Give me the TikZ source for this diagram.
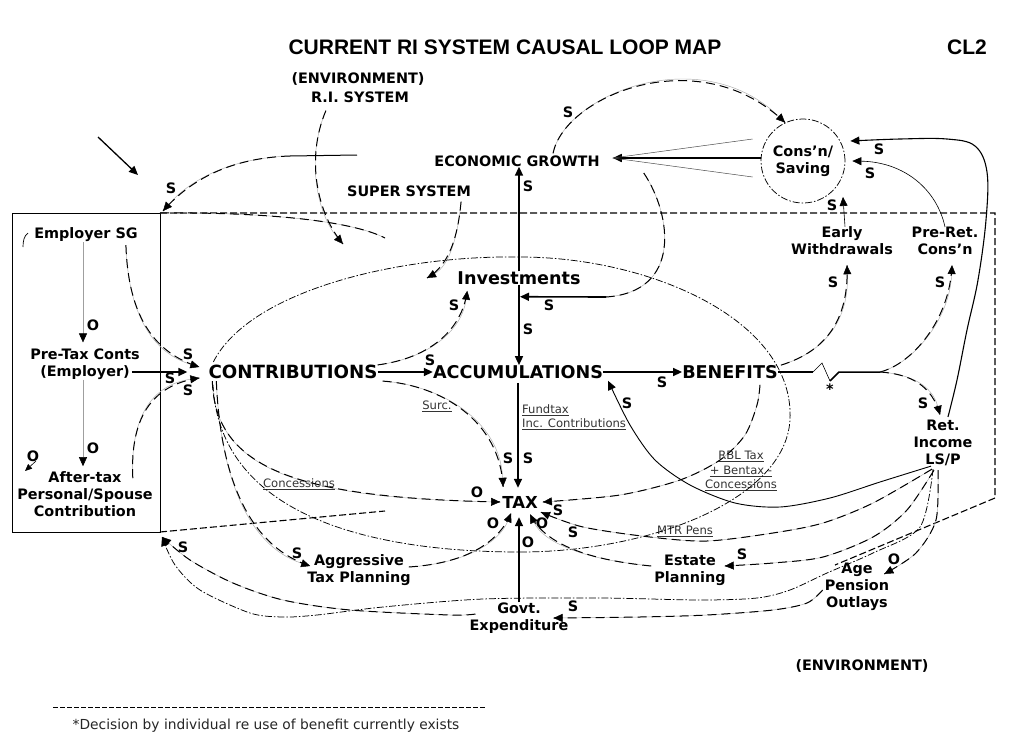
\documentclass[tikz,border=0pt]{standalone}
\usepackage{fontspec}
\setmainfont{DejaVu Sans}
\newfontfamily\headface{Liberation Sans}
\usetikzlibrary{arrows.meta,calc}
\newcommand\lblfnt{\fontsize{14.4}{17}\selectfont\bfseries}
\newcommand\bigfnt{\fontsize{17.6}{20}\selectfont\bfseries}
\newcommand\notefnt{\fontsize{11.6}{14}\selectfont}
\newcommand\headfnt{\headface\fontsize{21}{24}\selectfont\bfseries}

\tikzset{
  lbl/.style={font=\lblfnt, inner sep=0pt, align=center},
  big/.style={font=\bigfnt, inner sep=0pt},
  pol/.style={font=\lblfnt, inner sep=0pt},
  note/.style={font=\notefnt, inner sep=0pt, align=center, text=black!80},
  tipT/.style={-{Triangle[length=9pt,width=8pt,color=black,fill=black]}},
  tipS/.style={-{Triangle[length=7pt,width=6pt,color=black,fill=black]}},
  main/.style={line width=1.6pt, tipT},
  thn/.style={line width=0.5pt, draw=gray!75},
  lng/.style={draw=gray!65, line width=0.45pt,
    postaction={draw=black, line width=1pt, dash pattern=on 9pt off 5pt, -}},
  dd/.style={line width=0.75pt, dash pattern=on 7pt off 2pt on 1.5pt off 2pt},
  bnd/.style={line width=1.1pt, dash pattern=on 7pt off 3pt},
}

\begin{document}
\begin{tikzpicture}[x=1pt,y=-1pt]
\fill[white] (0,0) rectangle (1021,734);
\useasboundingbox (0,0) rectangle (1021,734);

% ---------- headings ----------
\node[font=\headfnt, inner sep=0pt] (title) at (505,47) {CURRENT RI SYSTEM CAUSAL LOOP MAP};
\node[font=\headfnt, inner sep=0pt] (cl2) at (967,47) {CL2};

% ---------- variables ----------
\node[lbl] (envtop) at (358,79) {(ENVIRONMENT)};
\node[lbl] (risys) at (360,97) {R.I. SYSTEM};
\node[lbl] (super) at (409,191) {SUPER SYSTEM};
\node[lbl] (econ) at (517,161) {ECONOMIC GROWTH};
\node[lbl, circle, draw, dd, minimum size=84pt, inner sep=0pt] (cons) at (803,161) {Cons’n/\\Saving};
\node[big] (invest) at (519,278) {Investments};
\node[lbl] (empsg) at (86,235) {Employer SG};
\node[lbl] (pretax) at (85,364) {Pre-Tax Conts\\(Employer)};
\node[lbl] (aftertax) at (85,494) {After-tax\\Personal/Spouse\\Contribution};
\node[big, font=\fontsize{18.2}{20}\selectfont\bfseries] (contrib) at (293,372) {CONTRIBUTIONS};
\node[big] (accum) at (518,372) {ACCUMULATIONS};
\node[big] (benef) at (730,372) {BENEFITS};
\node[lbl] (early) at (842,241) {Early\\Withdrawals};
\node[lbl] (preret) at (945,241) {Pre-Ret.\\Cons’n};
\node[lbl] (retinc) at (943,443) {Ret.\\Income\\LS/P};
\node[big, font=\fontsize{16.5}{20}\selectfont\bfseries] (tax) at (520,502) {TAX};
\node[lbl] (aggr) at (359,570) {Aggressive\\Tax Planning};
\node[lbl] (estate) at (690,570) {Estate\\Planning};
\node[lbl] (agepen) at (857,587) {Age\\Pension\\Outlays};
\node[lbl] (govt) at (519,618) {Govt.\\Expenditure};
\node[lbl] (envbot) at (862,666) {(ENVIRONMENT)};

% ---------- link notes ----------
\node[note] (surc) at (437,406) {\underline{Surc.}};
\node[note, align=left, anchor=west] (fundtax) at (522,417) {\underline{Fundtax}\\\underline{Inc. Contributions}};
\node[note, font=\fontsize{11.6}{14.5}\selectfont] (rbl) at (741,471) {\underline{RBL Tax}\\\underline{+ Bentax -}\\\underline{Concessions}};
\node[note] (conc) at (299,484) {\underline{Concessions}};
\node[note] (mtr) at (685,531) {\underline{MTR Pens}};
\node[lbl] (star) at (830,389) {*};
\node[font=\fontsize{13.8}{16}\selectfont, inner sep=0pt, text=black!85] (foot) at (266,726) {*Decision by individual re use of benefit currently exists};

% ---------- polarity marks ----------
\foreach \p/\x/\y [count=\i] in {S/171/188, S/568/112, S/528/186, S/879/149, S/870/173,
  S/832/205, O/93/325, S/188/354, S/170/378, S/188/390, S/430/360, S/454/305, S/549/305,
  S/528/329, S/662/382, S/833/282, S/940/282, S/923/403, S/627/403, O/93/448, O/33/456,
  S/508/458, S/528/458, O/477/492, S/558/510, O/493/523, O/542/523, O/528/542, S/573/532,
  S/297/553, S/183/547, S/742/554, O/894/559, S/573/606}
  \node[pol] (pol\i) at (\x,\y) {\p};

% ---------- system boundaries ----------
\coordinate (boxNW) at (12,213);
\coordinate (boxNE) at (160,213);
\coordinate (boxSE) at (160,532);
\coordinate (bndNE) at (995,213);
\coordinate (bndSE) at (995,498);
\coordinate (bndEnd) at (835,565);
\coordinate (bndL) at (385,511);
\draw[line width=1pt] (boxNW) rectangle (boxSE);
\draw[bnd] (boxNE) -- (bndNE) -- (bndSE) -- (bndEnd);
\draw[bnd] (boxSE) -- (bndL);

% input from outside
\coordinate (inA) at (98,137);
\coordinate (inB) at (138,175);
\draw[line width=1.3pt, tipT] (inA) -- (inB);

% environment link into the box corner
\coordinate (envout) at (357,155);
\coordinate (envmid) at (290,156);
\draw[line width=1pt] (envout) -- (envmid);
\draw[lng, tipT] (envmid) .. controls (230,158) and (190,180) .. ($(boxNE)+(3,-2)$);
\coordinate (sweepEnd) at (385,238);
\draw[lng] (boxNE) .. controls (260,212) and (350,220) .. (sweepEnd);

% R.I. system and super system influences
\coordinate (riEnd) at (343,244);
\draw[lng, tipT] ($(risys.south west)+(15,8)$) .. controls (305,160) and (318,215) .. (riEnd);
\coordinate (ssEnd) at (427,278);
\draw[lng, tipT] ($(super.south east)+(-10,5)$) .. controls (458,235) and (450,265) .. (ssEnd);

% economic growth <-> consumption / saving
\draw[lng, tipT] ($(econ.north)+(36,-2)$) .. controls (565,95) and (700,40) .. (cons.115);
\coordinate (egTip) at ($(econ.east)+(13,-3)$);
\draw[main] (cons.west |- egTip) -- (egTip);
\draw[thn, draw=black!70] ($(cons.west)+(-8,-22)$) -- (egTip);
\draw[thn, draw=black!70] ($(cons.west)+(-8,16)$) -- (egTip);

% economic growth -> investments
\coordinate (invJoin) at ($(invest.south)+(1,12)$);
\coordinate (invBend) at (606,297);
\draw[lng] ($(econ.east)+(44,12)$) .. controls (672,215) and (682,292) .. (invBend);
\draw[main] (invBend) -- (invJoin);

% investments up and down
\draw[main] (invest.north) -- (invest.north |- econ.south);
\draw[main] (invest.south) -- (invest.south |- accum.north);

% main chain
\draw[main] ($(pretax.east |- contrib.west)+(-8,0)$) -- ($(contrib.west)+(-21,0)$);
\draw[main] (contrib.east) -- (accum.west);
\draw[main] (accum.east) -- (benef.west);
\draw[main, shorten <=4pt, shorten >=8pt] (accum.south) -- (accum.south |- tax.north);
\draw[main, shorten >=9pt] (govt.north) -- (govt.north |- tax.south);

% inside the employer box
\draw[thn, tipT] ($(empsg.south)+(-3,0)$) -- ($(pretax.north)+(-2,-6)$);
\draw[thn, tipT] ($(pretax.south)+(-2,0)$) -- ($(aftertax.north)+(-2,-5)$);
\coordinate (cTipA) at ($(contrib.west)+(-9,-5)$);
\coordinate (cTipB) at ($(contrib.west)+(-9,6)$);
\draw[lng, tipT] ($(empsg.south east)+(-12,3)$) .. controls (128,310) and (150,352) .. (cTipA);
\draw[lng, tipT] ($(aftertax.north east)+(-20,7)$) .. controls (130,420) and (150,385) .. (cTipB);
\coordinate (oA) at (36,461);
\coordinate (oB) at (25,471);
\draw[line width=0.6pt, tipS] (oA) -- (oB);
\coordinate (pa) at (28,233);
\coordinate (pb) at (23,247);
\draw[line width=0.7pt] (pa) .. controls (24,236) and (23,241) .. (pb);

% contributions outflows
\draw[lng, tipT] (contrib.north east) .. controls (430,358) and (462,330) .. ($(invest.south west)+(10,6)$);
\draw[lng, tipT] ($(contrib.south east)+(5,2)$) .. controls (440,385) and (500,420) .. ($(tax.north west)+(1,-9)$);
\draw[lng, tipT] ($(contrib.south west)+(4,2)$) .. controls (215,470) and (300,498) .. ($(tax.west)+(-2,0)$);
\draw[lng, tipT] ($(contrib.south west)+(8,2)$) .. controls (220,470) and (245,545) .. ($(aggr.west)+(3,-4)$);
\draw[lng, tipT] ($(aggr.east)+(-2,-3)$) .. controls (470,563) and (500,540) .. ($(tax.south west)+(9,5)$);

% large loop round the fund
\coordinate (lpA) at ($(contrib.north west)+(5,-3)$);
\coordinate (lpTop) at (520,257);
\coordinate (lpR) at (790,420);
\coordinate (lpBot) at (520,552);
\coordinate (lpB) at (213,385);
\draw[dd] (lpA) .. controls (250,290) and (400,255) .. (lpTop)
  .. controls (650,257) and (795,320) .. (lpR)
  .. controls (785,500) and (650,552) .. (lpBot)
  .. controls (380,552) and (220,520) .. (lpB);

% retirement income -> consumption / saving
\coordinate (rcStart) at ($(retinc.north)+(5,-3)$);
\coordinate (rcTip) at ($(cons.east)+(5,-20)$);
\draw[line width=1.1pt, tipT] plot[smooth, tension=0.6] coordinates {(rcStart) (957,380) (967,330) (978,280) (986,220) (987,172) (975,146) (947,139) (900,139) (rcTip)};
\draw[line width=0.6pt, tipT] (preret.north) .. controls (937,190) and (905,162) .. ($(cons.east)+(7,0)$);
\draw[line width=0.6pt, tipT] ($(early.north)+(3,0)$) -- ($(cons.south east)+(10,6)$);

% benefits decisions
\draw[lng, tipT] ($(benef.north east)+(3,0)$) .. controls (830,350) and (849,315) .. ($(early.south)+(5,10)$);
\coordinate (zzA) at (813,372);
\coordinate (zzB) at (822,363);
\coordinate (zzC) at (830,381);
\coordinate (zzD) at (839,372);
\coordinate (fork) at (880,372);
\draw[line width=1.5pt] (benef.east) -- (zzA);
\draw[line width=0.6pt] (zzA) -- (zzB) -- (zzC);
\draw[line width=1.5pt] (zzC) -- (zzD) -- (fork);
\draw[lng, tipT] (fork) .. controls (912,364) and (950,320) .. ($(preret.south)+(7,10)$);
\draw[lng, tipT] (fork) .. controls (910,374) and (932,385) .. ($(retinc.north)+(-3,-5)$);

% retirement income -> accumulations
\coordinate (raStart) at ($(retinc.south)+(-12,0)$);
\coordinate (raTip) at ($(accum.south east)+(5,2)$);
\draw[line width=0.9pt, tipT] plot[smooth] coordinates {(raStart) (880,482) (830,498) (780,507) (735,503) (690,485) (655,460) (630,425) (raTip)};

% benefits -> tax
\coordinate (rbStart) at ($(benef.south)+(30,6)$);
\coordinate (rbTip) at ($(tax.east)+(5,0)$);
\draw[lng, tipT] plot[smooth] coordinates {(rbStart) (757,405) (745,435) (720,460) (680,480) (620,495) (rbTip)};

% retirement income -> tax, estate, age pension
\coordinate (mtStart) at ($(retinc.south)+(-11,3)$);
\coordinate (mtTip) at ($(tax.south east)+(3,4)$);
\draw[lng, tipT] plot[smooth] coordinates {(mtStart) (873,503) (823,523) (773,533) (707,541) (650,537) (583,527) (mtTip)};
\draw[lng, tipT] ($(estate.west)+(-3,-4)$) .. controls (590,560) and (545,545) .. ($(tax.south)+(10,6)$);
\coordinate (reStart) at ($(retinc.south)+(-9,4)$);
\coordinate (reTip) at ($(estate.east)+(-1,-4)$);
\draw[lng, tipT] plot[smooth] coordinates {(reStart) (907,510) (873,537) (823,557) (773,563) (reTip)};
\coordinate (rgStart) at ($(retinc.south)+(-5,4)$);
\coordinate (rgTip) at ($(agepen.east)+(-5,-13)$);
\draw[lng, tipT] plot[smooth] coordinates {(rgStart) (936,520) (916,553) (rgTip)};

% flows back to the employer box
\coordinate (rbxStart) at ($(retinc.south)+(-10,3)$);
\coordinate (bxTip) at ($(boxSE)+(2,5)$);
\draw[dd, tipT] plot[smooth] coordinates {(rbxStart) (920,527) (873,553) (827,573) (790,590) (757,598) (700,600) (600,598) (483,599) (383,607) (317,615) (283,617) (250,613) (200,590) (175,565) (bxTip)};
\coordinate (gbStart) at ($(govt.west)+(6,-4)$);
\draw[lng, tipT] plot[smooth] coordinates {(gbStart) (450,615) (350,610) (283,600) (233,583) (190,560) (bxTip)};

% age pension -> government expenditure
\coordinate (agStart) at ($(agepen.west)+(-2,3)$);
\coordinate (agTip) at ($(govt.east)+(-15,0)$);
\draw[lng, tipT] plot[smooth] coordinates {(agStart) (807,603) (773,610) (707,615) (640,617) (agTip)};

% footnote rule
\coordinate (fnA) at (53,707);
\coordinate (fnB) at (485,707);
\draw[line width=0.8pt, dash pattern=on 5pt off 2pt] (fnA) -- (fnB);
\end{tikzpicture}
\end{document}
